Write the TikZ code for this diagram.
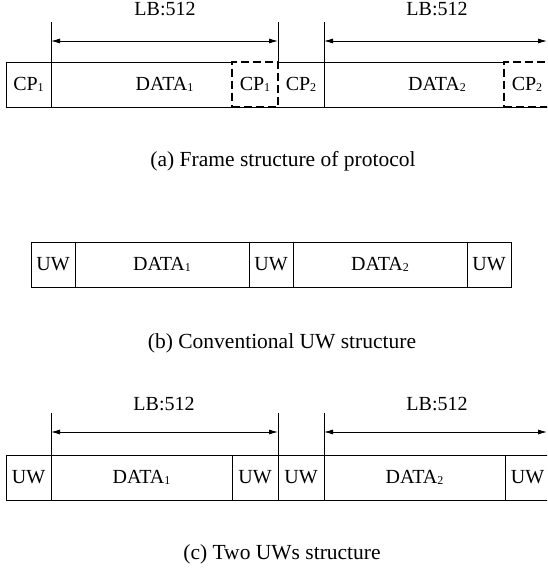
\documentclass[tikz,border=0pt]{standalone}
\usepackage{fontspec}
\setmainfont{Liberation Serif}
\usetikzlibrary{arrows.meta}
\newcommand{\ix}[1]{\raisebox{-0.5pt}{\fontsize{12}{12}\selectfont #1}}

\begin{document}
\begin{tikzpicture}[x=1pt,y=-1pt,line width=0.8pt,
  plain/.style={minimum height=45pt, inner sep=0pt, outer sep=0pt, anchor=north west, font=\fontsize{20}{22}\selectfont},
  cell/.style={plain, draw},
  dashbox/.style={plain, draw, line width=2.4pt, dash pattern=on 8pt off 4pt},
  dim/.style={{Latex[length=9pt,width=5pt]}-{Latex[length=9pt,width=5pt]}},
  lbl/.style={anchor=base, font=\fontsize{20}{22}\selectfont},
  capt/.style={anchor=base, font=\fontsize{21.5}{24}\selectfont}]
\useasboundingbox (0,0) rectangle (547,569);
\clip (0,0) rectangle (547,569);
% (a) frame structure of protocol
\node[plain, minimum width=45pt] (cpa1) at (6,62) {CP\ix1};
\node[plain, minimum width=227pt] (da1) at (51,62) {DATA\ix1};
\node[plain, minimum width=46pt] (cpa2) at (278,62) {CP\ix2};
\node[plain, minimum width=226pt] (da2) at (324,62) {DATA\ix2};
\draw (cpa1.north west) -- (da2.north east) (cpa1.south west) -- (da2.south east);
\draw (cpa1.north west) -- (cpa1.south west);
\node[dashbox, fill=white, minimum width=46pt] (dpa1) at (232,62) {CP\ix1};
\node[dashbox, fill=white, minimum width=46pt] (dpa2) at (504,62) {CP\ix2};
\coordinate (ta1) at (51,22);
\coordinate (ta2) at (278,22);
\coordinate (ta3) at (324,22);
\draw (ta1) -- (da1.south west);
\draw (ta2) -- (cpa2.north west);
\draw (ta3) -- (da2.south west);
\coordinate (aa1) at (51,41);
\coordinate (aa2) at (278,41);
\coordinate (aa3) at (324,41);
\coordinate (aa4) at (547,41);
\draw[dim] (aa1) -- (aa2);
\draw[dim] (aa3) -- (aa4);
\node[lbl] (lba1) at (165,16) {LB:512};
\node[lbl] (lba2) at (437,16) {LB:512};
\node[capt] (capa) at (283,167) {(a) Frame structure of protocol};
% (b) conventional UW structure
\node[cell, minimum width=44pt] (ub1) at (31,242) {UW};
\node[cell, minimum width=174pt] (db1) at (75,242) {DATA\ix1};
\node[cell, minimum width=44pt] (ub2) at (249,242) {UW};
\node[cell, minimum width=174pt] (db2) at (293,242) {DATA\ix2};
\node[cell, minimum width=44pt] (ub3) at (467,242) {UW};
\node[capt] (capb) at (282,348) {(b) Conventional UW structure};
% (c) two UWs structure
\node[cell, minimum width=45pt] (uc1) at (6,455) {UW};
\node[cell, minimum width=181pt] (dc1) at (51,455) {DATA\ix1};
\node[cell, minimum width=46pt] (uc2) at (232,455) {UW};
\node[cell, minimum width=46pt] (uc3) at (278,455) {UW};
\node[cell, minimum width=181pt] (dc2) at (324,455) {DATA\ix2};
\node[cell, minimum width=45pt] (uc4) at (505,455) {UW};
\coordinate (tc1) at (51,413);
\coordinate (tc2) at (278,413);
\coordinate (tc3) at (324,413);
\draw (tc1) -- (dc1.north west);
\draw (tc2) -- (uc3.north west);
\draw (tc3) -- (dc2.north west);
\coordinate (ac1) at (51,432);
\coordinate (ac2) at (278,432);
\coordinate (ac3) at (324,432);
\coordinate (ac4) at (547,432);
\draw[dim] (ac1) -- (ac2);
\draw[dim] (ac3) -- (ac4);
\node[lbl] (lbc1) at (164,410) {LB:512};
\node[lbl] (lbc2) at (437,410) {LB:512};
\node[capt] (capc) at (282,559) {(c) Two UWs structure};
\end{tikzpicture}
\end{document}
